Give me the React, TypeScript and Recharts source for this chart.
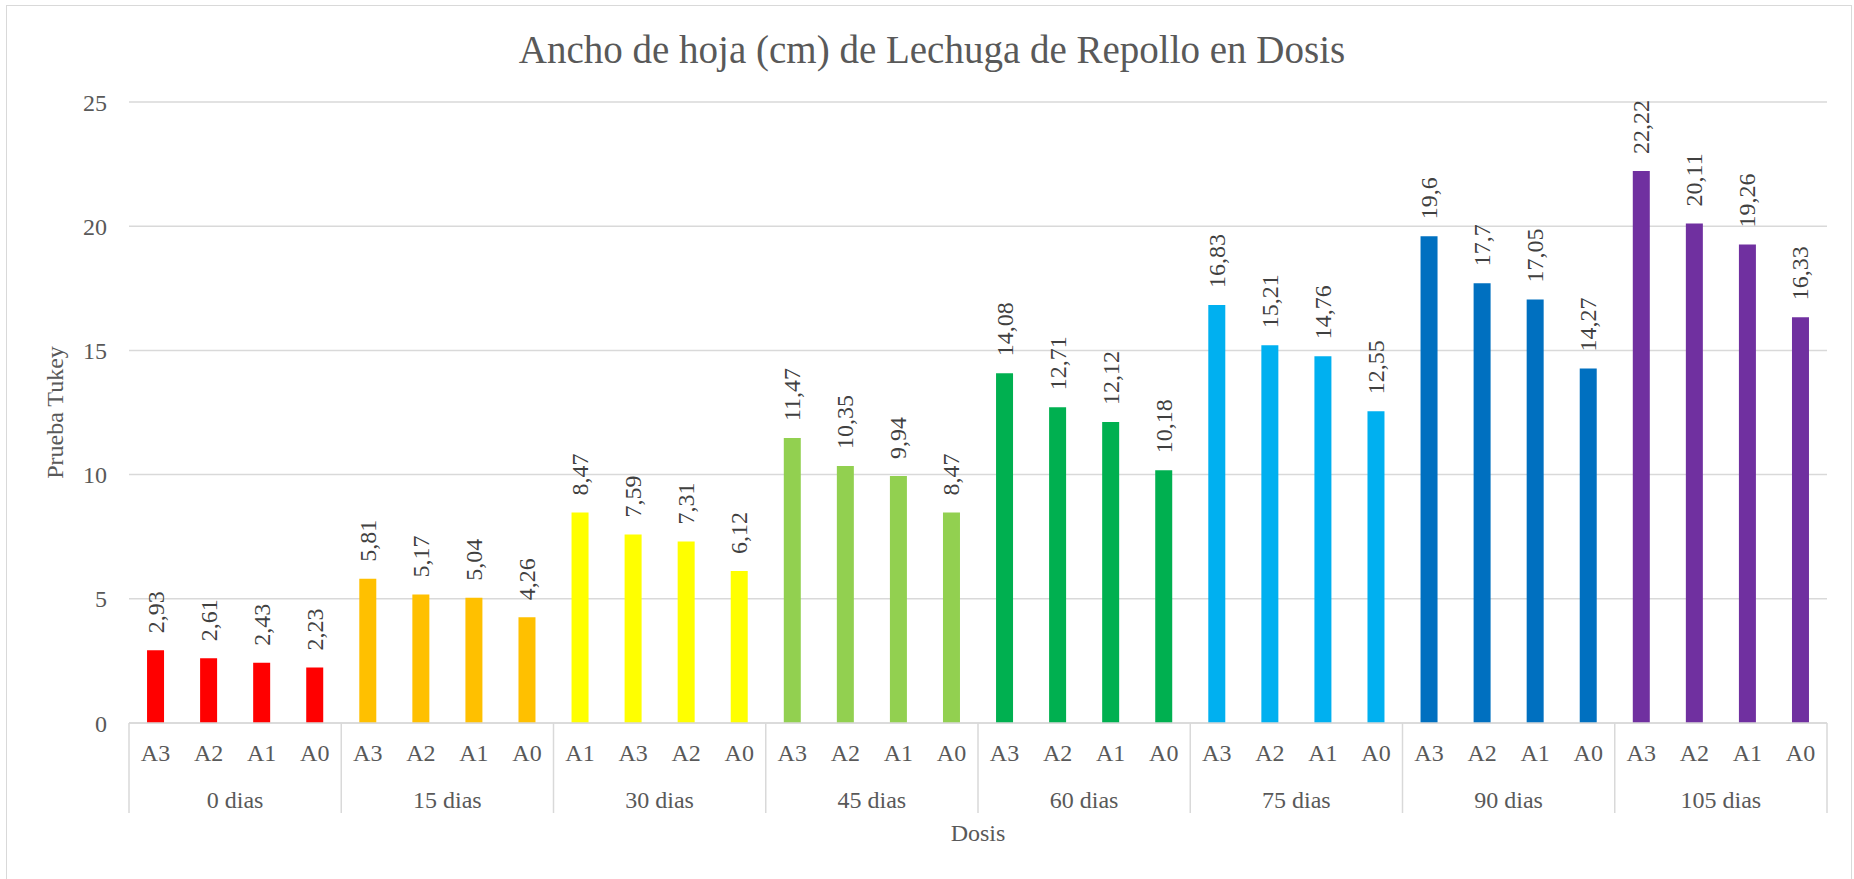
import React from 'react';
import { BarChart, Bar, XAxis, YAxis, CartesianGrid, Cell, LabelList } from 'recharts';

const groups = ['0 dias', '15 dias', '30 dias', '45 dias', '60 dias', '75 dias', '90 dias', '105 dias'];
const doses = [
  ['A3', 'A2', 'A1', 'A0'],
  ['A3', 'A2', 'A1', 'A0'],
  ['A1', 'A3', 'A2', 'A0'],
  ['A3', 'A2', 'A1', 'A0'],
  ['A3', 'A2', 'A1', 'A0'],
  ['A3', 'A2', 'A1', 'A0'],
  ['A3', 'A2', 'A1', 'A0'],
  ['A3', 'A2', 'A1', 'A0'],
];
const values = [
  [2.93, 2.61, 2.43, 2.23],
  [5.81, 5.17, 5.04, 4.26],
  [8.47, 7.59, 7.31, 6.12],
  [11.47, 10.35, 9.94, 8.47],
  [14.08, 12.71, 12.12, 10.18],
  [16.83, 15.21, 14.76, 12.55],
  [19.6, 17.7, 17.05, 14.27],
  [22.22, 20.11, 19.26, 16.33],
];
const groupColors = ['#FF0000', '#FFC000', '#FFFF00', '#92D050', '#00B050', '#00B0F0', '#0070C0', '#7030A0'];
const yTicks = [0, 5, 10, 15, 20, 25];

const W = 1854;
const H = 879;
const FONT = '"Liberation Serif", serif';
const TXT = '#595959';
const LINE = '#D9D9D9';

const data = groups.flatMap((g, gi) =>
  doses[gi].map((d, di) => ({
    key: `${gi}-${di}`,
    dose: d,
    group: g,
    gi,
    value: values[gi][di],
    color: groupColors[gi],
  }))
);

// two-level category axis: dose on top row, day group below, with separators
const CategoryTick = (props: any) => {
  const { x, y, payload, index } = props;
  const half = payload.offset;
  const row = data[index];
  const first = index % 4 === 0;
  const last = index === data.length - 1;
  return (
    <g>
      <text x={x} y={y + 30} textAnchor="middle" fill={TXT} fontFamily={FONT} fontSize={24}>
        {row.dose}
      </text>
      {first && (
        <>
          <line x1={x - half} x2={x - half} y1={y - 8} y2={y + 82} stroke={LINE} strokeWidth={1.5} />
          <text x={x + 3 * half} y={y + 77} textAnchor="middle" fill={TXT} fontFamily={FONT} fontSize={24}>
            {row.group}
          </text>
        </>
      )}
      {last && <line x1={x + half} x2={x + half} y1={y - 8} y2={y + 82} stroke={LINE} strokeWidth={1.5} />}
    </g>
  );
};

const ValueLabel = (props: any) => {
  const { x, y, width, value } = props;
  const cx = x + width / 2;
  const ty = y - 17;
  return (
    <text
      x={cx}
      y={ty}
      transform={`rotate(-90, ${cx}, ${ty})`}
      textAnchor="start"
      dominantBaseline="central"
      fill="#404040"
      fontFamily={FONT}
      fontSize={24}
    >
      {String(value).replace('.', ',')}
    </text>
  );
};

export default function App() {
  return (
    <div style={{ position: 'absolute', left: 0, top: 0, width: W, height: H, background: '#fff' }}>
      <div
        style={{
          position: 'absolute',
          left: 6,
          top: 5,
          width: W - 8,
          height: H,
          border: '1.5px solid #D9D9D9',
          boxSizing: 'border-box',
        }}
      />
      <div
        style={{
          position: 'absolute',
          left: 0,
          top: 27,
          width: 1864,
          textAlign: 'center',
          fontFamily: FONT,
          fontSize: 39,
          color: TXT,
        }}
      >
        Ancho de hoja (cm) de Lechuga de Repollo en Dosis
      </div>
      <BarChart
        width={W}
        height={H}
        data={data}
        margin={{ top: 102, right: 27, bottom: 36, left: 0 }}
        barCategoryGap="34%"
        style={{ position: 'absolute', left: 0, top: 0 }}
      >
        <CartesianGrid vertical={false} stroke={LINE} strokeWidth={1.5} />
        <XAxis
          dataKey="key"
          interval={0}
          height={120}
          axisLine={{ stroke: LINE, strokeWidth: 1.5 }}
          tickLine={false}
          tick={<CategoryTick />}
          label={(p: any) => {
            const vb = p.viewBox;
            return (
              <text
                x={vb.x + vb.width / 2}
                y={vb.y + 118}
                textAnchor="middle"
                fill={TXT}
                fontFamily={FONT}
                fontSize={24}
              >
                Dosis
              </text>
            );
          }}
        />
        <YAxis
          width={129}
          domain={[0, 25]}
          ticks={yTicks}
          axisLine={false}
          tickLine={false}
          tickSize={6}
          tickMargin={16}
          tick={{ fill: TXT, fontFamily: FONT, fontSize: 24 }}
          label={(p: any) => {
            const vb = p.viewBox;
            const cx = 55;
            const cy = vb.y + vb.height / 2;
            return (
              <text
                x={cx}
                y={cy}
                transform={`rotate(-90, ${cx}, ${cy})`}
                textAnchor="middle"
                dominantBaseline="central"
                fill={TXT}
                fontFamily={FONT}
                fontSize={24}
              >
                Prueba Tukey
              </text>
            );
          }}
        />
        <Bar dataKey="value" isAnimationActive={false}>
          {data.map((d) => (
            <Cell key={d.key} fill={d.color} />
          ))}
          <LabelList dataKey="value" content={<ValueLabel />} />
        </Bar>
      </BarChart>
    </div>
  );
}
